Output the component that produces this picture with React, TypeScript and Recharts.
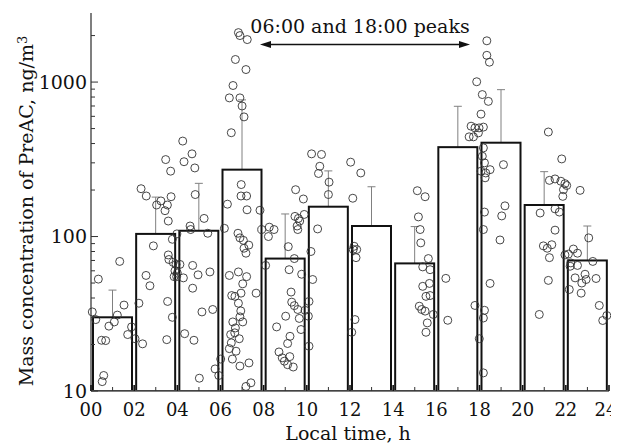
import { ComposedChart, Bar, Scatter, XAxis, YAxis, ReferenceLine } from "recharts";

// hourly bins (centre of each 2-h window), geometric means and upper error limits
const binCentres = [1, 3, 5, 7, 9, 11, 13, 15, 17, 19, 21, 23];
const binMeans = [30, 104, 109, 271, 72, 156, 117, 67, 379, 405, 160, 70];
const binUpper = [45, 180, 221, 767, 140, 266, 210, 116, 697, 893, 263, 117];

// individual samples [hour, ng/m3]
const pts00 = [
  [0.06, 32.5], [0.22, 29], [0.34, 53], [0.49, 21.3], [0.68, 21.2], [0.59, 12.6], [0.52, 11.5],
  [0.83, 26.3], [1.08, 28], [1.22, 31], [1.33, 69], [1.53, 36], [1.7, 23.2], [1.88, 26], [2.04, 21.8],
];
const pts02 = [
  [2.22, 37], [2.32, 204], [2.39, 20.2], [2.55, 56], [2.56, 183], [2.73, 48], [2.89, 87], [3.04, 160],
  [3.24, 170], [3.43, 147], [3.46, 315], [3.51, 21.5], [3.54, 160], [3.55, 38], [3.58, 126], [3.58, 76],
  [3.61, 71], [3.69, 265], [3.71, 181], [3.77, 96], [3.77, 30], [3.81, 68], [3.89, 60], [3.94, 66],
  [3.97, 55], [3.98, 104], [3.85, 55],
];
const pts04 = [
  [4.12, 66], [4.0, 58], [4.28, 54], [4.25, 415], [4.31, 305], [4.68, 343], [4.81, 278], [4.83, 187],
  [5.24, 131], [4.59, 117], [4.62, 111], [5.41, 105], [4.71, 65], [4.96, 56.5], [5.51, 59], [4.71, 46.3],
  [5.14, 32.5], [5.64, 33.7], [4.34, 23.5], [4.77, 21.3], [5.02, 12.1], [5.75, 13.9], [5.92, 12.6], [6.01, 16.1],
];
const pts06 = [
  [6.83, 2090], [6.9, 2000], [7.24, 1884], [6.69, 1400], [7.18, 1205], [6.58, 950], [6.41, 790], [6.9, 790],
  [7.0, 700], [7.09, 595], [6.5, 470], [6.96, 217], [6.95, 183], [7.21, 183], [6.32, 162], [7.23, 149],
  [7.83, 148], [7.91, 111], [6.18, 113], [6.81, 105], [6.9, 98], [7.06, 94.5], [7.31, 88], [7.09, 84],
  [7.18, 78], [6.41, 56], [6.83, 59], [7.21, 55], [7.03, 49.4], [6.67, 41], [6.95, 43], [6.52, 41.5],
  [7.65, 43], [6.83, 37], [6.94, 33], [6.9, 30.2], [7.03, 28], [6.57, 28], [6.69, 25.6], [6.47, 23.2],
  [6.87, 21.8], [6.66, 23.8], [6.5, 20.5], [6.41, 18.8], [6.72, 18.1], [6.55, 16.1], [6.9, 14.5],
  [7.32, 15.2], [7.18, 10.7], [7.41, 11.3],
];
const pts08 = [
  [8.09, 65], [8.26, 115], [8.48, 111], [8.22, 100], [9.48, 201], [9.84, 175], [9.45, 135], [9.61, 131],
  [9.88, 139], [9.58, 111], [9.55, 117], [9.67, 126], [9.14, 86], [9.42, 72], [9.18, 61], [9.76, 57],
  [9.27, 43.7], [9.3, 37.6], [9.42, 35.7], [9.58, 33.7], [9.92, 33.3], [9.65, 29.5], [9.02, 30.5],
  [8.6, 26], [9.22, 22.6], [9.73, 25], [9.11, 20.3], [8.71, 17.9], [8.86, 16.4], [8.96, 15.6],
  [9.11, 14.8], [9.37, 14.3], [9.21, 16.7],
];
const pts10 = [
  [10.07, 30.5], [10.1, 19.5], [10.19, 80], [10.27, 52.7], [10.1, 38], [10.5, 112], [10.22, 343],
  [10.68, 340], [10.6, 285], [10.54, 256], [11.03, 225], [11.0, 187],
];
const pts12 = [
  [12.03, 303], [12.5, 258], [12.13, 177], [12.19, 86.5], [12.31, 82.4], [12.15, 82.4], [12.28, 73],
  [12.23, 29], [12.08, 24],
];
const pts14 = [
  [15.12, 198], [15.48, 181], [15.17, 134], [15.25, 111], [15.28, 91], [15.63, 72], [15.37, 63.6],
  [15.71, 61], [15.68, 49.7], [15.37, 47.6], [15.52, 41], [15.71, 41.5], [15.21, 35.4], [15.32, 33.7],
  [15.48, 32.9], [15.86, 31.3], [15.58, 27.6], [15.52, 24],
];
const pts16 = [
  [16.44, 53.6], [16.53, 28.7], [17.87, 1005], [17.61, 518], [17.79, 505], [17.52, 442], [17.72, 442],
  [17.95, 469], [17.79, 35.8], [17.99, 21.8],
];
const pts18 = [
  [18.13, 830], [18.41, 750], [18.07, 620], [18.34, 1850], [18.34, 1490], [18.46, 1345], [17.98, 505],
  [18.18, 511], [18.18, 375], [18.13, 331], [18.23, 300], [18.49, 271], [18.29, 258], [18.07, 265],
  [18.26, 240], [19.11, 292], [18.23, 144], [19.18, 158], [19.03, 136], [18.18, 111], [18.95, 95],
  [18.49, 49.7], [18.23, 33.3], [18.18, 29.7], [18.18, 13.1],
];
const pts20 = [
  [21.19, 475], [21.81, 318], [21.24, 231], [21.5, 236], [21.77, 228], [21.96, 220], [21.89, 201],
  [21.86, 182], [22.04, 214], [22.66, 199], [20.81, 142], [21.5, 151], [21.7, 144], [21.5, 110],
  [20.96, 87], [21.35, 88.5], [21.14, 84], [21.24, 73], [21.19, 52], [20.77, 31.3],
];
const pts22 = [
  [23.06, 98], [22.35, 83], [22.54, 78], [22.12, 77], [21.96, 76], [22.23, 67.5], [22.54, 65],
  [23.25, 69], [22.2, 64.2], [22.43, 54], [22.89, 57], [23.4, 53.5], [22.16, 45.4], [22.74, 50],
  [22.94, 52.7], [22.71, 43], [23.55, 35.8], [23.71, 28.6], [23.9, 30.8],
];

const hourTicks = [0, 1, 2, 3, 4, 5, 6, 7, 8, 9, 10, 11, 12, 13, 14, 15, 16, 17, 18, 19, 20, 21, 22, 23, 24];
const concTicks = [10, 20, 30, 40, 50, 60, 70, 80, 90, 100, 200, 300, 400, 500, 600, 700, 800, 900, 1000, 2000];
const concLabelled = [10, 100, 1000];

const Y_MIN = 10;
const Y_MAX = 2800;
const FONT = "DejaVu Serif";

const barData = binCentres.map((h, i) => ({ h, mean: binMeans[i], upper: binUpper[i] }));
const pointData = [pts00, pts02, pts04, pts06, pts08, pts10, pts12, pts14, pts16, pts18, pts20, pts22]
  .flat()
  .map(([h, v]) => ({ h, v }));

// bar outline plus the one-sided (upper) error whisker
function BinBar(props: any) {
  const { x, y, width, height, payload } = props;
  const perDecade = height / Math.log10(payload.mean / Y_MIN);
  const yTop = y - perDecade * Math.log10(payload.upper / payload.mean);
  const cx = x + width / 2;
  return (
    <g>
      <line x1={cx} x2={cx} y1={y} y2={yTop} stroke="#808080" strokeWidth={1} />
      <line x1={cx - 4} x2={cx + 4} y1={yTop} y2={yTop} stroke="#808080" strokeWidth={1} />
      <rect x={x} y={y} width={width} height={height} fill="none" stroke="#111" strokeWidth={2} />
    </g>
  );
}

const Ring = (p: any) => (
  <circle cx={p.cx} cy={p.cy} r={4} fill="none" stroke="#333" strokeWidth={0.9} />
);

function ConcTick(props: any) {
  const { x, y, payload } = props;
  const major = concLabelled.includes(payload.value);
  const ax = x + 6;
  return (
    <g>
      <line x1={ax} x2={ax + (major ? 7 : 4)} y1={y} y2={y} stroke="#333" strokeWidth={1} />
      {major && (
        <text x={x + 2} y={y} dy="0.36em" textAnchor="end" fontFamily={FONT} fontSize={19} fill="#111">
          {payload.value}
        </text>
      )}
    </g>
  );
}

function HourTick(props: any) {
  const { x, y, payload } = props;
  const major = payload.value % 2 === 0;
  const ay = y - 10;
  // the last label is pulled in slightly so it stays inside the frame
  const shift = payload.value === 24 ? -3 : 0;
  return (
    <g>
      <line x1={x} x2={x} y1={ay} y2={ay - (major ? 6 : 4)} stroke={major ? "#111" : "#333"} strokeWidth={major ? 1.6 : 1} />
      {major && (
        <text x={x + shift} y={y} dy={15} textAnchor="middle" fontFamily={FONT} fontSize={18} fill="#111">
          {String(payload.value).padStart(2, "0")}
        </text>
      )}
    </g>
  );
}

function PeakArrow(props: any) {
  const { x1, y1, x2 } = props;
  const mid = (x1 + x2) / 2;
  return (
    <g>
      <line x1={x1 + 6} x2={x2 - 6} y1={y1} y2={y1} stroke="#111" strokeWidth={1.6} />
      <polygon points={`${x1},${y1} ${x1 + 11},${y1 - 3.5} ${x1 + 11},${y1 + 3.5}`} fill="#111" />
      <polygon points={`${x2},${y1} ${x2 - 11},${y1 - 3.5} ${x2 - 11},${y1 + 3.5}`} fill="#111" />
      <text x={mid - 5} y={y1 - 12} textAnchor="middle" fontFamily={FONT} fontSize={19} fill="#111">
        06:00 and 18:00 peaks
      </text>
    </g>
  );
}

export default function App() {
  return (
    <ComposedChart
      width={611}
      height={436}
      data={barData}
      margin={{ top: 5, right: 10, left: 0, bottom: 1 }}
      style={{ fontFamily: FONT, overflow: "visible" }}
    >
      <XAxis xAxisId="bins" dataKey="h" type="number" domain={[0, 24]} ticks={binCentres} hide />
      <XAxis
        dataKey="h"
        type="number"
        domain={[0, 24]}
        ticks={hourTicks}
        interval={0}
        height={52}
        tickSize={0}
        tickMargin={10}
        tick={<HourTick />}
        axisLine={{ stroke: "#555", strokeWidth: 1.5 }}
        label={{
          content: ({ viewBox }: any) => (
            <text
              x={viewBox.x + viewBox.width / 2 - 2}
              y={viewBox.y + viewBox.height - 3}
              textAnchor="middle"
              fontFamily={FONT}
              fontSize={19}
              fill="#111"
            >
              Local time, h
            </text>
          ),
        }}
      />
      <YAxis
        type="number"
        scale="log"
        domain={[Y_MIN, Y_MAX]}
        allowDataOverflow
        ticks={concTicks}
        interval={0}
        width={83}
        tickSize={0}
        tickMargin={6}
        tick={<ConcTick />}
        axisLine={{ stroke: "#555", strokeWidth: 1.5 }}
        label={{
          content: ({ viewBox }: any) => {
            const cx = viewBox.x + 25;
            const cy = viewBox.y + viewBox.height / 2 + 9;
            return (
              <text
                x={cx}
                y={cy}
                transform={`rotate(-90, ${cx}, ${cy})`}
                textAnchor="middle"
                fontFamily={FONT}
                fontSize={19}
                fill="#111"
              >
                Mass concentration of PreAC, ng/m
                <tspan dy="-0.5em" fontSize={13}>3</tspan>
              </text>
            );
          },
        }}
      />
      <Bar xAxisId="bins" dataKey="mean" barSize={39} shape={<BinBar />} isAnimationActive={false} />
      <Scatter data={pointData} dataKey="v" shape={<Ring />} isAnimationActive={false} />
      <ReferenceLine
        segment={[{ x: 7.83, y: 1750 }, { x: 17.56, y: 1750 }]}
        ifOverflow="visible"
        shape={<PeakArrow />}
      />
    </ComposedChart>
  );
}
